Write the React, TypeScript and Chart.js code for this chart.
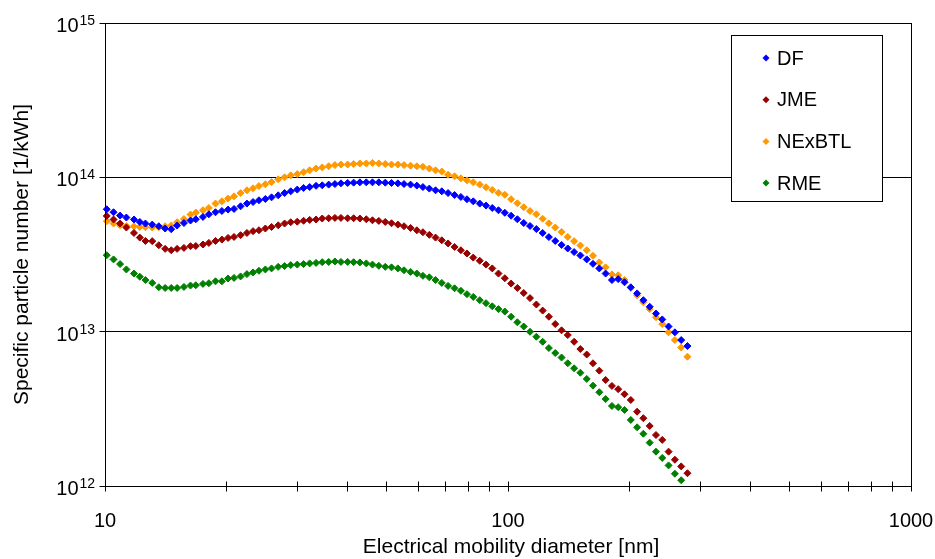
import React, { useEffect, useRef } from 'react';
import { Chart, registerables } from 'chart.js';

Chart.register(...registerables);

const FONT = "'Liberation Sans', Arial, Helvetica, sans-serif";

// Electrical mobility diameter [nm]
const diameters = [
  10.1, 10.5, 10.9, 11.3, 11.8, 12.2, 12.6, 13.1, 13.6, 14.1,
  14.6, 15.1, 15.7, 16.3, 16.8, 17.5, 18.1, 18.8, 19.5, 20.2,
  20.9, 21.7, 22.5, 23.3, 24.1, 25.0, 25.9, 26.9, 27.9, 28.9,
  30.0, 31.1, 32.2, 33.4, 34.6, 35.9, 37.2, 38.5, 40.0, 41.4,
  42.9, 44.5, 46.1, 47.8, 49.6, 51.4, 53.3, 55.2, 57.3, 59.4,
  61.5, 63.8, 66.1, 68.5, 71.0, 73.7, 76.4, 79.1, 82.0, 85.1,
  88.2, 91.4, 94.7, 98.2, 101.8, 105.5, 109.4, 113.4, 117.6, 121.9,
  126.3, 131.0, 135.8, 140.7, 145.9, 151.2, 156.8, 162.5, 168.5, 174.7,
  181.1, 187.7, 194.6, 201.7, 209.1, 216.7, 224.7, 232.9, 241.4, 250.3,
  259.5, 269.0, 278.8,
];

// Specific particle number [1/kWh]
const dfValues = [
  6.21e13, 5.94e13, 5.65e13, 5.49e13, 5.33e13, 5.14e13, 5.02e13, 4.94e13, 4.82e13, 4.66e13,
  4.61e13, 4.87e13, 5.06e13, 5.25e13, 5.35e13, 5.54e13, 5.76e13, 5.94e13, 6.05e13, 6.18e13,
  6.24e13, 6.49e13, 6.76e13, 6.92e13, 7.10e13, 7.24e13, 7.42e13, 7.65e13, 7.91e13, 8.12e13,
  8.33e13, 8.53e13, 8.65e13, 8.81e13, 8.88e13, 8.97e13, 9.05e13, 9.14e13, 9.19e13, 9.24e13,
  9.28e13, 9.28e13, 9.28e13, 9.28e13, 9.24e13, 9.19e13, 9.14e13, 9.05e13, 8.97e13, 8.84e13,
  8.65e13, 8.45e13, 8.24e13, 8.12e13, 7.91e13, 7.68e13, 7.46e13, 7.21e13, 6.99e13, 6.76e13,
  6.56e13, 6.33e13, 6.12e13, 5.89e13, 5.64e13, 5.35e13, 5.06e13, 4.84e13, 4.62e13, 4.36e13,
  4.10e13, 3.87e13, 3.65e13, 3.46e13, 3.28e13, 3.12e13, 2.94e13, 2.75e13, 2.57e13, 2.38e13,
  2.16e13, 2.19e13, 2.09e13, 1.94e13, 1.77e13, 1.60e13, 1.45e13, 1.31e13, 1.20e13, 1.08e13,
  9.90e12, 8.82e12, 8.07e12,
];

const jmeValues = [
  5.62e13, 5.33e13, 5.02e13, 4.73e13, 4.36e13, 4.07e13, 3.87e13, 3.86e13, 3.63e13, 3.44e13,
  3.37e13, 3.44e13, 3.49e13, 3.58e13, 3.59e13, 3.67e13, 3.76e13, 3.87e13, 3.95e13, 4.05e13,
  4.11e13, 4.22e13, 4.36e13, 4.48e13, 4.54e13, 4.66e13, 4.77e13, 4.89e13, 5.02e13, 5.12e13,
  5.16e13, 5.23e13, 5.30e13, 5.33e13, 5.41e13, 5.43e13, 5.46e13, 5.46e13, 5.43e13, 5.43e13,
  5.41e13, 5.35e13, 5.27e13, 5.22e13, 5.14e13, 5.04e13, 4.94e13, 4.82e13, 4.70e13, 4.54e13,
  4.41e13, 4.24e13, 4.07e13, 3.91e13, 3.73e13, 3.54e13, 3.37e13, 3.21e13, 3.02e13, 2.88e13,
  2.72e13, 2.57e13, 2.38e13, 2.22e13, 2.05e13, 1.92e13, 1.78e13, 1.65e13, 1.50e13, 1.37e13,
  1.25e13, 1.12e13, 1.02e13, 9.51e12, 8.60e12, 7.72e12, 7.11e12, 6.24e12, 5.59e12, 4.86e12,
  4.45e12, 4.24e12, 3.93e12, 3.61e12, 3.03e12, 2.75e12, 2.45e12, 2.14e12, 1.99e12, 1.67e12,
  1.48e12, 1.34e12, 1.21e12,
];

const nexbtlValues = [
  5.19e13, 5.02e13, 4.89e13, 4.84e13, 4.82e13, 4.77e13, 4.75e13, 4.73e13, 4.75e13, 4.82e13,
  4.87e13, 5.12e13, 5.37e13, 5.74e13, 5.91e13, 6.12e13, 6.33e13, 6.76e13, 6.99e13, 7.28e13,
  7.53e13, 7.91e13, 8.24e13, 8.49e13, 8.78e13, 9.01e13, 9.32e13, 9.71e13, 1.00e14, 1.03e14,
  1.05e14, 1.08e14, 1.11e14, 1.14e14, 1.16e14, 1.18e14, 1.20e14, 1.21e14, 1.21e14, 1.22e14,
  1.23e14, 1.23e14, 1.24e14, 1.23e14, 1.22e14, 1.21e14, 1.21e14, 1.20e14, 1.19e14, 1.18e14,
  1.17e14, 1.14e14, 1.11e14, 1.09e14, 1.04e14, 1.015e14, 9.85e13, 9.56e13, 9.28e13, 8.97e13,
  8.62e13, 8.28e13, 7.94e13, 7.71e13, 7.21e13, 6.79e13, 6.40e13, 6.05e13, 5.76e13, 5.39e13,
  5.04e13, 4.73e13, 4.43e13, 4.11e13, 3.86e13, 3.62e13, 3.37e13, 3.10e13, 2.81e13, 2.61e13,
  2.35e13, 2.32e13, 2.16e13, 1.92e13, 1.72e13, 1.55e13, 1.40e13, 1.24e13, 1.12e13, 9.90e12,
  8.82e12, 7.89e12, 6.88e12,
];

const rmeValues = [
  3.13e13, 2.94e13, 2.74e13, 2.53e13, 2.38e13, 2.27e13, 2.16e13, 2.07e13, 1.94e13, 1.92e13,
  1.92e13, 1.92e13, 1.95e13, 1.99e13, 2.00e13, 2.04e13, 2.06e13, 2.12e13, 2.12e13, 2.21e13,
  2.23e13, 2.28e13, 2.36e13, 2.42e13, 2.48e13, 2.53e13, 2.57e13, 2.63e13, 2.66e13, 2.70e13,
  2.72e13, 2.74e13, 2.77e13, 2.79e13, 2.82e13, 2.83e13, 2.85e13, 2.83e13, 2.83e13, 2.82e13,
  2.81e13, 2.77e13, 2.72e13, 2.67e13, 2.63e13, 2.61e13, 2.57e13, 2.50e13, 2.44e13, 2.38e13,
  2.30e13, 2.25e13, 2.16e13, 2.07e13, 1.98e13, 1.91e13, 1.84e13, 1.75e13, 1.68e13, 1.60e13,
  1.53e13, 1.46e13, 1.40e13, 1.35e13, 1.25e13, 1.15e13, 1.08e13, 9.98e12, 9.27e12, 8.60e12,
  7.83e12, 7.27e12, 6.80e12, 6.24e12, 5.79e12, 5.42e12, 4.94e12, 4.47e12, 4.05e12, 3.66e12,
  3.30e12, 3.24e12, 3.11e12, 2.68e12, 2.40e12, 2.18e12, 1.91e12, 1.67e12, 1.52e12, 1.36e12,
  1.20e12, 1.09e12,
];

const seriesNames = ['DF', 'JME', 'NExBTL', 'RME'];
const seriesValues = [dfValues, jmeValues, nexbtlValues, rmeValues];
const seriesColors = ['#0000FF', '#990000', '#FF9900', '#008000'];

const xTickValues = [10, 20, 30, 40, 50, 60, 70, 80, 90, 100, 200, 300, 400, 500, 600, 700, 800, 900, 1000];
const xLabelValues = [10, 100, 1000];
const xLabels = ['10', '100', '1000'];
const yTickValues = [1e12, 1e13, 1e14, 1e15];
const yExponents = ['12', '13', '14', '15'];

const xTitle = 'Electrical mobility diameter [nm]';
const yTitle = 'Specific particle number [1/kWh]';

function alignPx(v: number) {
  return Math.round(v - 0.5) + 0.5;
}

const decorPlugin = {
  id: 'decor',
  afterDraw(chart: any) {
    const { ctx, chartArea: a } = chart;
    const xs = chart.scales.x;
    const ys = chart.scales.y;
    const L = alignPx(a.left);
    const R = alignPx(a.right);
    const T = alignPx(a.top);
    const B = alignPx(a.bottom);

    ctx.save();
    ctx.strokeStyle = '#000';
    ctx.lineWidth = 1;
    ctx.strokeRect(L, T, R - L, B - T);

    ctx.beginPath();
    xTickValues.forEach((v) => {
      const px = alignPx(xs.getPixelForValue(v));
      ctx.moveTo(px, B - 5);
      ctx.lineTo(px, B + 5);
    });
    yTickValues.forEach((v) => {
      const py = alignPx(ys.getPixelForValue(v));
      ctx.moveTo(L - 6, py);
      ctx.lineTo(L + 5, py);
    });
    ctx.stroke();

    ctx.fillStyle = '#000';
    ctx.textBaseline = 'alphabetic';
    ctx.font = `20px ${FONT}`;
    ctx.textAlign = 'center';
    xLabelValues.forEach((v, i) => {
      ctx.fillText(xLabels[i], xs.getPixelForValue(v), B + 40);
    });

    yTickValues.forEach((v, i) => {
      const py = ys.getPixelForValue(v);
      ctx.font = `20px ${FONT}`;
      ctx.textAlign = 'right';
      ctx.fillText('10', L - 27, py + 9);
      ctx.font = `14px ${FONT}`;
      ctx.textAlign = 'left';
      ctx.fillText(yExponents[i], L - 26, py + 2);
    });

    // axis titles
    ctx.font = `21px ${FONT}`;
    ctx.textAlign = 'center';
    ctx.fillText(xTitle, (a.left + a.right) / 2 + 3, 553);
    ctx.save();
    ctx.translate(22, (a.top + a.bottom) / 2);
    ctx.rotate(-Math.PI / 2);
    ctx.textBaseline = 'middle';
    ctx.fillText(yTitle, 0, 0);
    ctx.restore();

    // legend
    const lx = 731.5;
    const ly = 35.5;
    const lw = 151;
    const lh = 166;
    ctx.fillStyle = '#fff';
    ctx.fillRect(lx, ly, lw, lh);
    ctx.strokeStyle = '#000';
    ctx.strokeRect(lx, ly, lw, lh);
    ctx.font = `20px ${FONT}`;
    ctx.textAlign = 'left';
    ctx.textBaseline = 'middle';
    chart.data.datasets.forEach((ds: any, i: number) => {
      const cy = ly + 22.5 + i * 41.7;
      const cx = 766;
      const r = 3.5;
      ctx.fillStyle = ds.backgroundColor;
      ctx.beginPath();
      ctx.moveTo(cx - r, cy);
      ctx.lineTo(cx, cy - r);
      ctx.lineTo(cx + r, cy);
      ctx.lineTo(cx, cy + r);
      ctx.closePath();
      ctx.fill();
      ctx.fillStyle = '#000';
      ctx.fillText(ds.label, 777, cy + 1);
    });
    ctx.restore();
  },
};

export default function App() {
  const canvasRef = useRef<HTMLCanvasElement | null>(null);

  useEffect(() => {
    document.body.style.margin = '0';
    const canvas = canvasRef.current;
    if (!canvas) return;

    const datasets = seriesNames.map((name, s) => ({
      label: name,
      data: diameters
        .slice(0, seriesValues[s].length)
        .map((d, i) => ({ x: d, y: seriesValues[s][i] })),
      showLine: false,
      pointStyle: 'rectRot',
      pointRadius: 3.5,
      pointHoverRadius: 3.5,
      pointBorderWidth: 1,
      backgroundColor: seriesColors[s],
      borderColor: seriesColors[s],
      clip: false,
    }));

    const chart = new Chart(canvas, {
      type: 'scatter',
      data: { datasets } as any,
      plugins: [decorPlugin],
      options: {
        responsive: false,
        maintainAspectRatio: false,
        animation: false,
        events: [],
        layout: { padding: { top: 23, right: 24, left: 0, bottom: 0 } },
        plugins: {
          legend: { display: false },
          tooltip: { enabled: false },
          title: { display: false },
        },
        scales: {
          x: {
            type: 'logarithmic',
            min: 10,
            max: 1000,
            grid: { display: false, drawTicks: false },
            border: { display: false },
            ticks: { display: false },
            afterBuildTicks: (scale: any) => {
              scale.ticks = xTickValues.map((v) => ({ value: v }));
            },
            afterFit: (scale: any) => {
              scale.height = 73;
            },
          },
          y: {
            type: 'logarithmic',
            min: 1e12,
            max: 1e15,
            grid: { display: true, color: '#000', lineWidth: 1, drawTicks: false },
            border: { display: false },
            ticks: { display: false },
            afterBuildTicks: (scale: any) => {
              scale.ticks = yTickValues.map((v) => ({ value: v }));
            },
            afterFit: (scale: any) => {
              scale.width = 105;
            },
          },
        },
      } as any,
    });

    return () => {
      chart.destroy();
    };
  }, []);

  return (
    <div style={{ width: 935, height: 559, background: '#fff' }}>
      <canvas ref={canvasRef} width={935} height={559} style={{ display: 'block' }} />
    </div>
  );
}
